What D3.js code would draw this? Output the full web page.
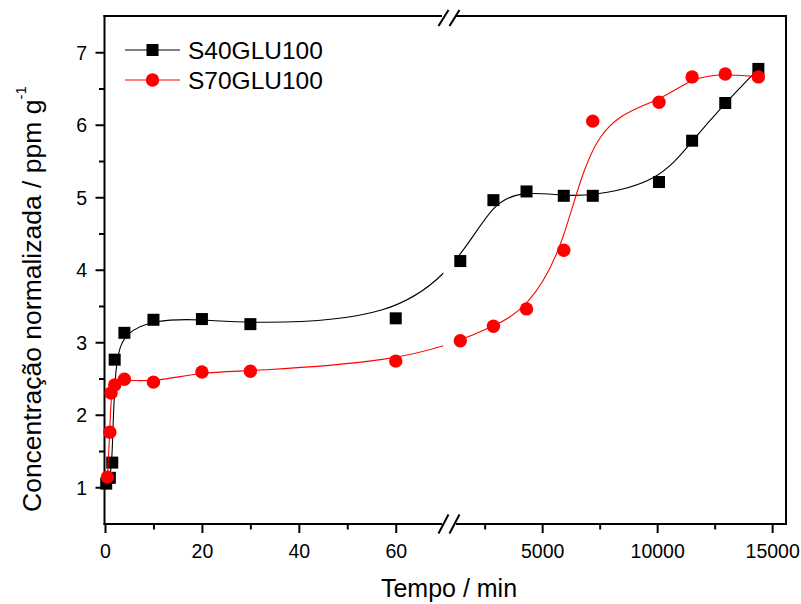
<!DOCTYPE html>
<html>
<head>
<meta charset="utf-8">
<script src="https://cdn.jsdelivr.net/npm/d3@7"></script>
<style>
  html, body { margin: 0; padding: 0; background: #fff; }
  svg { display: block; font-family: "Liberation Sans", Arial, sans-serif; }
</style>
</head>
<body>
<svg id="chart" width="801" height="604"></svg>
<script>
// Release of normalised concentration over time (broken time axis: minutes, then days in minutes)
const s40Time  = [0.25, 1, 1.5, 2, 4, 10, 20, 30, 60, 1440, 2880, 4320, 5940, 7200, 10080, 11520, 12960, 14400];
const s40Value = [1.05, 1.13, 1.34, 2.76, 3.13, 3.31, 3.32, 3.25, 3.33, 4.12, 4.96, 5.08, 5.02, 5.02, 5.21, 5.78, 6.30, 6.77];
const s70Time  = [0.5, 1, 1.25, 2, 4, 10, 20, 30, 60, 1440, 2880, 4320, 5940, 7200, 10080, 11520, 12960, 14400];
const s70Value = [1.14, 1.76, 2.30, 2.41, 2.49, 2.45, 2.59, 2.60, 2.74, 3.02, 3.22, 3.46, 4.27, 6.05, 6.31, 6.66, 6.70, 6.66];

const leftMajor  = [0, 20, 40, 60];
const leftMinor  = [10, 30, 50];
const rightMajor = [5000, 10000, 15000];
const rightMinor = [2500, 7500, 12500];
const yMajor = [1, 2, 3, 4, 5, 6, 7];
const yMinor = [1.5, 2.5, 3.5, 4.5, 5.5, 6.5];

const seriesNames = ["S40GLU100", "S70GLU100"];
const seriesColors = ["#000000", "#ff0000"];

const svg = d3.select("#chart");

// frame geometry
const L = 104.5, R = 786, T = 16, B = 524;
const gapL = 442, gapR = 456;
const breakT = 70;

const xLeft  = d3.scaleLinear().domain([0, breakT]).range([105, 444.2]);
const xRight = d3.scaleLinear().domain([1275, 15580]).range([456.5, 785.5]);
const y = d3.scaleLinear().domain([0.5, 7.5]).range([523.5, 16]);
const xPos = t => (t <= breakT ? xLeft(t) : xRight(t));

const fontTick = 19.5;

// ---- axes ----
function styleAxis(g) {
  g.select(".domain").remove();
  g.selectAll("line").attr("stroke", "#000").attr("stroke-width", 2);
}

// bottom axis, left segment
const gxL = svg.append("g").attr("transform", `translate(0,${B})`)
  .call(d3.axisBottom(xLeft).tickValues(leftMajor).tickSize(9).tickSizeOuter(0).tickFormat(d3.format("d")));
const gxLm = svg.append("g").attr("transform", `translate(0,${B})`)
  .call(d3.axisBottom(xLeft).tickValues(leftMinor).tickSize(5.5).tickFormat(""));
// bottom axis, right segment
const gxR = svg.append("g").attr("transform", `translate(0,${B})`)
  .call(d3.axisBottom(xRight).tickValues(rightMajor).tickSize(9).tickSizeOuter(0).tickFormat(d3.format("d")));
const gxRm = svg.append("g").attr("transform", `translate(0,${B})`)
  .call(d3.axisBottom(xRight).tickValues(rightMinor).tickSize(5.5).tickFormat(""));

[gxL, gxLm, gxR, gxRm].forEach(styleAxis);
[gxL, gxR].forEach(g => g.selectAll("text")
  .attr("y", 34).attr("dy", null)
  .attr("font-size", fontTick).attr("font-family", "Liberation Sans, Arial, sans-serif")
  .attr("fill", "#000"));

// left axis
const gy = svg.append("g").attr("transform", `translate(${L},0)`)
  .call(d3.axisLeft(y).tickValues(yMajor).tickSize(9).tickSizeOuter(0).tickFormat(d3.format("d")));
const gym = svg.append("g").attr("transform", `translate(${L},0)`)
  .call(d3.axisLeft(y).tickValues(yMinor).tickSize(5.5).tickFormat(""));
[gy, gym].forEach(styleAxis);
gy.selectAll("text")
  .attr("x", -17.5).attr("dy", "0.36em")
  .attr("font-size", fontTick).attr("font-family", "Liberation Sans, Arial, sans-serif")
  .attr("fill", "#000");

// frame lines with the axis break gap on top and bottom
const frame = svg.append("g").attr("stroke", "#000").attr("stroke-width", 2).attr("fill", "none");
frame.append("path").attr("d", `M${L},${T - 1}V${B + 1}`);
frame.append("path").attr("d", `M${R},${T - 1}V${B + 1}`);
frame.append("path").attr("d", `M${L - 1},${B}H${gapL}M${gapR},${B}H${R + 1}`);
frame.append("path").attr("d", `M${L - 1},${T}H${gapL}M${gapR},${T}H${R + 1}`);

// break marks "//"
[[B, 9.5], [T + 2, 8]].forEach(([yc, h]) => {
  [438.5, 449.5].forEach(x0 => {
    frame.append("line")
      .attr("x1", x0).attr("y1", yc + h)
      .attr("x2", x0 + 10).attr("y2", yc - h)
      .attr("stroke-width", 2);
  });
});

// ---- series ----
const clipDefs = svg.append("defs");
clipDefs.append("clipPath").attr("id", "clipLeft")
  .append("rect").attr("x", L).attr("y", T).attr("width", 443.3 - L).attr("height", B - T);
clipDefs.append("clipPath").attr("id", "clipRight")
  .append("rect").attr("x", 455).attr("y", T).attr("width", R - 455).attr("height", B - T);

const lineGen = d3.line().x(d => xPos(d[0])).y(d => y(d[1])).curve(d3.curveBasis);

const series = [
  { name: seriesNames[0], color: seriesColors[0], shape: "square", data: d3.zip(s40Time, s40Value) },
  { name: seriesNames[1], color: seriesColors[1], shape: "circle", data: d3.zip(s70Time, s70Value) }
];

function drawMarker(g, shape, color, cx, cy) {
  if (shape === "square") {
    g.append("rect").attr("x", cx - 6).attr("y", cy - 6).attr("width", 12).attr("height", 12).attr("fill", color);
  } else {
    g.append("circle").attr("cx", cx).attr("cy", cy).attr("r", 6.7).attr("fill", color);
  }
}

series.forEach(s => {
  ["clipLeft", "clipRight"].forEach(id => {
    svg.append("path")
      .attr("clip-path", `url(#${id})`)
      .attr("d", lineGen(s.data))
      .attr("fill", "none")
      .attr("stroke", s.color)
      .attr("stroke-width", 1.1);
  });
  const mg = svg.append("g");
  s.data.forEach(d => drawMarker(mg, s.shape, s.color, xPos(d[0]), y(d[1])));
});

// ---- legend ----
const legend = svg.append("g");
series.forEach((s, i) => {
  const ly = 50 + i * 30;
  legend.append("line").attr("x1", 125).attr("x2", 180).attr("y1", ly).attr("y2", ly)
    .attr("stroke", s.color).attr("stroke-width", 1.1);
  drawMarker(legend, s.shape, s.color, 152.5, ly);
  legend.append("text").attr("x", 188).attr("y", ly + 9)
    .attr("font-size", 24.5).attr("fill", "#000").text(s.name);
});

// ---- axis titles ----
svg.append("text")
  .attr("x", 449).attr("y", 597)
  .attr("text-anchor", "middle")
  .attr("font-size", 25)
  .attr("fill", "#000")
  .text("Tempo / min");

const yt = svg.append("text")
  .attr("transform", "translate(41,512) rotate(-90)")
  .attr("text-anchor", "start")
  .attr("font-size", 26.5)
  .attr("fill", "#000");
yt.append("tspan").text("Concentração normalizada / ppm g");
yt.append("tspan").attr("font-size", 15).attr("dy", -15).text("-1");
</script>
</body>
</html>
